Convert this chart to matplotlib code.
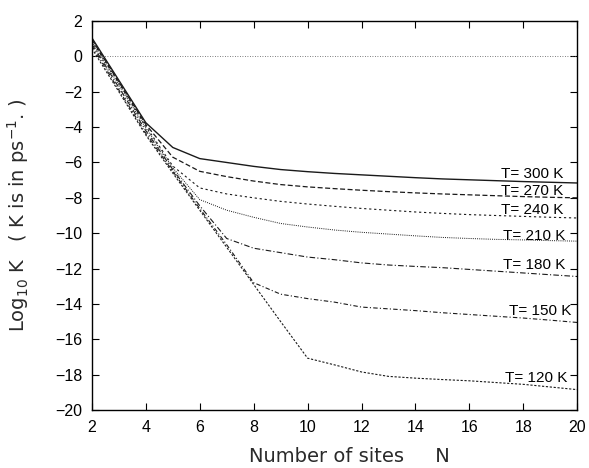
import matplotlib
matplotlib.use("Agg")
import matplotlib.pyplot as plt
import numpy as np

# Number of sites N
sites = list(range(2, 21))

# log10 K for each temperature, one value per N = 2..20
logk_300 = [1.05, -1.35, -3.75, -5.15, -5.78, -6.0, -6.22, -6.4, -6.52, -6.62,
            -6.7, -6.78, -6.86, -6.93, -6.98, -7.03, -7.08, -7.12, -7.16]
logk_270 = [0.95, -1.45, -3.85, -5.7, -6.5, -6.8, -7.05, -7.25, -7.38, -7.48,
            -7.57, -7.65, -7.72, -7.78, -7.83, -7.88, -7.93, -7.97, -8.0]
logk_240 = [0.9, -1.5, -3.95, -6.2, -7.44, -7.78, -8.0, -8.2, -8.35, -8.48,
            -8.6, -8.7, -8.8, -8.88, -8.95, -9.0, -9.05, -9.1, -9.14]
logk_210 = [0.8, -1.6, -4.05, -6.3, -8.1, -8.7, -9.1, -9.45, -9.65, -9.82,
            -9.95, -10.05, -10.15, -10.24, -10.3, -10.35, -10.38, -10.42, -10.45]
logk_180 = [0.7, -1.75, -4.2, -6.4, -8.45, -10.3, -10.85, -11.1, -11.35, -11.5,
            -11.68, -11.8, -11.88, -11.95, -12.05, -12.15, -12.25, -12.35, -12.45]
logk_150 = [0.6, -1.9, -4.35, -6.5, -8.6, -10.65, -12.8, -13.45, -13.7, -13.9,
            -14.18, -14.28, -14.38, -14.5, -14.6, -14.7, -14.8, -14.92, -15.05]
logk_120 = [0.45, -2.0, -4.45, -6.6, -8.7, -10.8, -12.9, -15.0, -17.07, -17.45,
            -17.85, -18.1, -18.2, -18.28, -18.35, -18.45, -18.55, -18.7, -18.85]

labels = ["T= 300 K", "T= 270 K", "T= 240 K", "T= 210 K",
          "T= 180 K", "T= 150 K", "T= 120 K"]
label_x = [19.48, 19.48, 19.48, 19.56, 19.56, 19.78, 19.63]
label_y = [-6.63, -7.59, -8.67, -10.14, -11.78, -14.39, -18.19]

plt.rcParams["font.family"] = ["Liberation Sans", "DejaVu Sans"]
plt.rcParams["mathtext.default"] = "regular"

series = [logk_300, logk_270, logk_240, logk_210, logk_180, logk_150, logk_120]
styles = [
    "-",
    (0, (4, 2)),
    (0, (2, 2.5)),
    (0, (1, 1.2)),
    (0, (5, 2, 1, 2)),
    (0, (4, 2, 1, 2)),
    (0, (2, 1.5)),
]
widths = [1.0, 0.9, 0.8, 0.7, 0.8, 0.8, 0.8]

fig = plt.figure(figsize=(5.89, 4.68), dpi=100)
ax = fig.add_axes([0.156, 0.124, 0.824, 0.831])

ax.axhline(0, color="#555555", linestyle=(0, (1, 2)), linewidth=0.6)

for vals, ls, lw in zip(series, styles, widths):
    ax.plot(sites, vals, color="#1a1a1a", linestyle=ls, linewidth=lw)

for txt, lx, ly in zip(labels, label_x, label_y):
    ax.text(lx, ly, txt, ha="right", va="center", fontsize=11)

ax.set_xlim(2, 20)
ax.set_ylim(-20, 2)
ax.set_xticks(np.arange(2, 21, 2))
ax.set_yticks(np.arange(-20, 3, 2))
ax.tick_params(direction="in", top=True, right=True, length=5, width=0.8,
               labelsize=11.5, pad=7)
for side in ax.spines.values():
    side.set_linewidth(1.0)

label_font = {"family": ["DejaVu Sans"], "size": 14, "color": "#2a2a2a"}
ax.set_xlabel("Number of sites     N", fontdict=label_font)
ax.xaxis.set_label_coords(0.53, -0.095)
ax.set_ylabel("Log$_{10}$ K   ( K is in ps$^{-1}$. )", fontdict=label_font)
ax.yaxis.set_label_coords(-0.125, 0.5)

fig.savefig("out.png", dpi=100)
